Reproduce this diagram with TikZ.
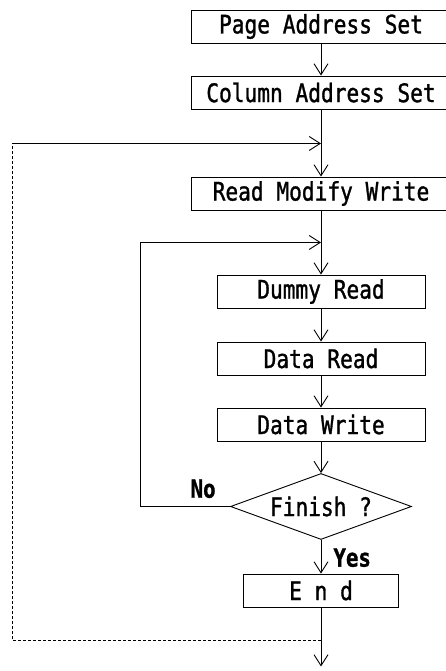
\documentclass[tikz,border=0pt]{standalone}
\usepackage{fontspec}
\newfontfamily\flowfont[FakeStretch=0.83,FakeBold=1.2]{DejaVu Sans Mono}
\usetikzlibrary{arrows.meta,positioning,shapes.geometric}

\begin{document}
\begin{tikzpicture}[x=1pt,y=1pt,->,>={Straight Barb[length=11pt,width=14pt]},line width=0.9pt]
\tikzstyle{every node}=[font=\flowfont\fontsize{25.5}{25.5}\selectfont]
\tikzstyle{procbox}=[draw,rectangle,minimum height=33pt,inner sep=0pt]
\tikzstyle{decision}=[draw,diamond,aspect=2.74,minimum width=181pt,minimum height=66pt,inner sep=0pt]
\tikzstyle{answer}=[inner sep=0pt,font=\flowfont\bfseries\fontsize{25}{25}\selectfont]
\tikzstyle{joint}=[coordinate]

\useasboundingbox (0,0) rectangle (446,671);

\node[procbox,minimum width=260pt] (page) at (321,644.5) {Page Address Set};
\node[procbox,minimum width=260pt] (col) [below of=page, node distance=66pt] {Column Address Set};
\node[procbox,minimum width=260pt] (rmw) [below of=col, node distance=101pt] {Read Modify Write};
\node[procbox,minimum width=208pt] (dummy) [below of=rmw, node distance=98pt] {Dummy Read};
\node[procbox,minimum width=208pt] (dread) [below of=dummy, node distance=67pt] {Data Read};
\node[procbox,minimum width=208pt] (dwrite) [below of=dread, node distance=66pt] {Data Write};
\node[decision] (fin) [below of=dwrite, node distance=82pt] {Finish ?};
\node[procbox,minimum width=155pt] (end) [below of=fin, node distance=84pt] {E n d};

\node[joint] (outer) [below of=col, node distance=51pt] {};
\node[joint] (inner) [below of=rmw, node distance=49pt] {};
\node[joint] (back) [below of=end, node distance=50pt] {};
\node[joint] (exit) [below of=back, node distance=26pt] {};
\node[joint] (lx) at (12,0) {};
\node[joint] (nx) at (140,0) {};

\node[answer] (no) [above left=8pt and 14pt of fin.west] {No};
\node[answer] (yes) [below right=8pt and 12pt of fin.south] {Yes};

\path
(page) edge (col)
(col) edge (rmw)
(rmw) edge (dummy)
(dummy) edge (dread)
(dread) edge (dwrite)
(dwrite) edge (fin)
(fin) edge (end)
(end) edge (exit);

% loops back
\draw (fin.west) -| (nx |- inner) -- (inner);
\draw[-,dash pattern=on 3pt off 2pt] (back) -| (lx |- outer);
\draw (lx |- outer) -- (outer);
\end{tikzpicture}
\end{document}
